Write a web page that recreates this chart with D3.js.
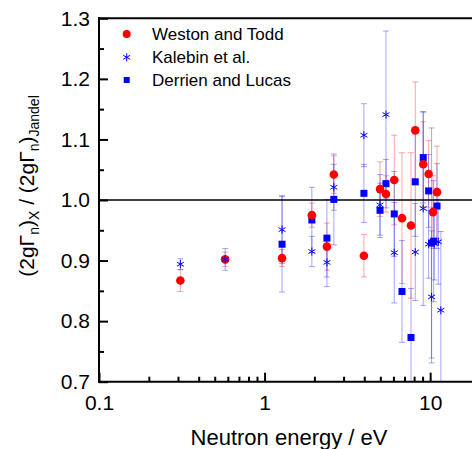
<!DOCTYPE html>
<html>
<head>
<meta charset="utf-8">
<script src="https://cdn.jsdelivr.net/npm/d3@7"></script>
<style>
  body { margin: 0; background: #fff; }
  text { font-family: "Liberation Sans", Arial, sans-serif; fill: #000; }
</style>
</head>
<body>
<div id="chart"></div>
<script>
// Weston and Todd (red circles)
const westonE   = [0.31, 0.578, 1.275, 1.93, 2.38, 2.62, 3.98, 4.98, 5.41, 6.07, 6.76, 7.66, 8.13, 9.08, 9.79, 10.4, 11.0];
const westonR   = [0.867, 0.902, 0.904, 0.975, 0.923, 1.042, 0.908, 1.018, 1.010, 1.033, 0.970, 0.958, 1.115, 1.059, 1.043, 0.980, 1.013];
const westonErr = [0.018, 0.012, 0.014, 0.020, 0.039, 0.031, 0.035, 0.045, 0.030, 0.074, 0.108, 0.120, 0.080, 0.070, 0.055, 0.060, 0.076];

// Kalebin et al. (blue asterisks)
const kalebinE   = [0.31, 0.578, 1.275, 1.93, 2.38, 2.62, 3.98, 4.98, 5.41, 6.07, 8.13, 9.08, 9.79, 10.2, 10.6, 11.2, 11.6];
const kalebinR   = [0.894, 0.902, 0.951, 0.915, 0.897, 1.021, 1.107, 0.992, 1.141, 0.913, 0.914, 0.986, 0.927, 0.840, 0.928, 0.931, 0.818];
const kalebinErr = [0.009, 0.018, 0.056, 0.025, 0.040, 0.038, 0.052, 0.050, 0.138, 0.083, 0.080, 0.160, 0.056, 0.109, 0.060, 0.070, 0.130];

// Derrien and Lucas (blue squares)
const derrienE   = [1.275, 1.93, 2.38, 2.62, 3.98, 4.98, 5.41, 6.07, 6.76, 7.66, 8.13, 9.08, 9.79, 10.2, 10.5, 11.0];
const derrienR   = [0.927, 0.967, 0.937, 1.001, 1.011, 0.983, 1.027, 0.977, 0.849, 0.773, 1.030, 1.070, 1.015, 0.929, 0.932, 0.990];
const derrienErr = [0.079, 0.054, 0.064, 0.075, 0.048, 0.045, 0.040, 0.070, 0.084, 0.081, 0.090, 0.075, 0.060, 0.190, 0.100, 0.070];

const xTicks = [0.1, 1, 10];
const xMinor = [0.2, 0.3, 0.4, 0.5, 0.6, 0.7, 0.8, 0.9, 2, 3, 4, 5, 6, 7, 8, 9];
const yTicks = [0.7, 0.8, 0.9, 1.0, 1.1, 1.2, 1.3];
const yMinor = [0.75, 0.85, 0.95, 1.05, 1.15, 1.25];
const legendNames = ["Weston and Todd", "Kalebin et al.", "Derrien and Lucas"];

const width = 472, height = 449;
const mLeft = 99, mRight = 480, mTop = 18.3, mBottom = 381.7;

const svg = d3.select("#chart").append("svg")
  .attr("width", width)
  .attr("height", height);

const x = d3.scaleLog().domain([0.1, 20]).range([mLeft, mRight]);
const y = d3.scaleLinear().domain([0.7, 1.3]).range([mBottom, mTop]);

svg.append("clipPath").attr("id", "plot")
  .append("rect")
  .attr("x", mLeft).attr("y", mTop)
  .attr("width", mRight - mLeft).attr("height", mBottom - mTop);

const toRows = (es, rs, errs) => es.map((e, i) => ({ e: e, r: rs[i], err: errs[i] }));
const weston = toRows(westonE, westonR, westonErr);
const kalebin = toRows(kalebinE, kalebinR, kalebinErr);
const derrien = toRows(derrienE, derrienR, derrienErr);

// error bars
const bars = svg.append("g").attr("clip-path", "url(#plot)");
function errorBars(data, color) {
  const g = bars.append("g")
    .attr("stroke", color)
    .attr("stroke-opacity", 0.35)
    .attr("stroke-width", 1);
  data.forEach(d => {
    const cx = x(d.e);
    g.append("line")
      .attr("x1", cx).attr("x2", cx)
      .attr("y1", y(d.r - d.err)).attr("y2", y(d.r + d.err));
    [d.r - d.err, d.r + d.err].forEach(v => {
      g.append("line")
        .attr("x1", cx - 3).attr("x2", cx + 3)
        .attr("y1", y(v)).attr("y2", y(v));
    });
  });
}
errorBars(weston, "#ff0000");
errorBars(kalebin, "#0000ff");
errorBars(derrien, "#0000ff");

// reference line at 1.0
svg.append("line")
  .attr("x1", mLeft).attr("x2", mRight)
  .attr("y1", y(1)).attr("y2", y(1))
  .attr("stroke", "#000")
  .attr("stroke-width", 1.6);

// markers
const marks = svg.append("g").attr("clip-path", "url(#plot)");
marks.selectAll("rect.derrien")
  .data(derrien)
  .enter().append("rect")
  .attr("x", d => x(d.e) - 3.5)
  .attr("y", d => y(d.r) - 3.5)
  .attr("width", 7).attr("height", 7)
  .attr("fill", "#0000ff");

marks.selectAll("circle.weston")
  .data(weston)
  .enter().append("circle")
  .attr("cx", d => x(d.e))
  .attr("cy", d => y(d.r))
  .attr("r", 4.3)
  .attr("fill", "#ff0000");

const asterisk = d3.symbol().type(d3.symbolAsterisk).size(45);
marks.selectAll("path.kalebin")
  .data(kalebin)
  .enter().append("path")
  .attr("d", asterisk)
  .attr("transform", d => `translate(${x(d.e)},${y(d.r)})`)
  .attr("fill", "none")
  .attr("stroke", "#0000ff")
  .attr("stroke-width", 1);

// axes
svg.append("g")
  .attr("transform", `translate(0,${mBottom})`)
  .call(d3.axisBottom(x).tickValues(xTicks).tickFormat(d3.format("~g"))
    .tickSize(-9).tickPadding(13));
svg.append("g")
  .attr("transform", `translate(0,${mBottom})`)
  .call(d3.axisBottom(x).tickValues(xMinor).tickFormat("").tickSize(-5));

svg.append("g")
  .attr("transform", `translate(${mLeft},0)`)
  .call(d3.axisLeft(y).tickValues(yTicks).tickFormat(d3.format(".1f"))
    .tickSize(-9).tickPadding(9));
svg.append("g")
  .attr("transform", `translate(${mLeft},0)`)
  .call(d3.axisLeft(y).tickValues(yMinor).tickFormat("").tickSize(-5));

svg.selectAll(".domain").remove();
svg.selectAll(".tick line").attr("stroke", "#000").attr("stroke-width", 2);
svg.selectAll(".tick text")
  .style("font-family", "'Liberation Sans', Arial, sans-serif")
  .style("font-size", "21px")
  .attr("fill", "#000");

// frame
const frame = svg.append("g").attr("stroke", "#000").attr("stroke-width", 2);
frame.append("line").attr("x1", mLeft).attr("x2", mLeft).attr("y1", mTop - 1).attr("y2", mBottom + 1);
frame.append("line").attr("x1", mLeft - 1).attr("x2", mRight).attr("y1", mBottom).attr("y2", mBottom);
frame.append("line").attr("x1", mLeft - 1).attr("x2", mRight).attr("y1", mTop).attr("y2", mTop);
frame.append("line").attr("x1", mRight).attr("x2", mRight).attr("y1", mTop).attr("y2", mBottom);

// axis titles
svg.append("text")
  .attr("x", 289).attr("y", 445)
  .attr("text-anchor", "middle")
  .style("font-size", "22px")
  .text("Neutron energy / eV");

const yt = svg.append("text")
  .attr("transform", "translate(34,186) rotate(-90)")
  .attr("text-anchor", "middle")
  .style("font-size", "21px");
const parts = [
  ["(2gΓ", 0, 21], ["n", 5, 14], [")", -5, 21], ["X", 5, 14],
  [" / (2gΓ", -5, 21], ["n", 5, 14], [")", -5, 21], ["Jandel", 5, 14]
];
parts.forEach(p => {
  yt.append("tspan").attr("dy", p[1]).style("font-size", p[2] + "px").text(p[0]);
});

// legend
const legend = svg.append("g");
const ly = [34, 57.3, 80];
legend.append("circle").attr("cx", 126.7).attr("cy", ly[0]).attr("r", 4).attr("fill", "#ff0000");
legend.append("path").attr("d", asterisk)
  .attr("transform", `translate(126.7,${ly[1]})`)
  .attr("fill", "none").attr("stroke", "#0000ff").attr("stroke-width", 1);
legend.append("rect").attr("x", 123.7).attr("y", ly[2] - 3).attr("width", 6).attr("height", 6).attr("fill", "#0000ff");
legendNames.forEach((name, i) => {
  legend.append("text")
    .attr("x", 152).attr("y", ly[i])
    .attr("dy", "0.36em")
    .style("font-size", "17px")
    .text(name);
});
</script>
</body>
</html>
